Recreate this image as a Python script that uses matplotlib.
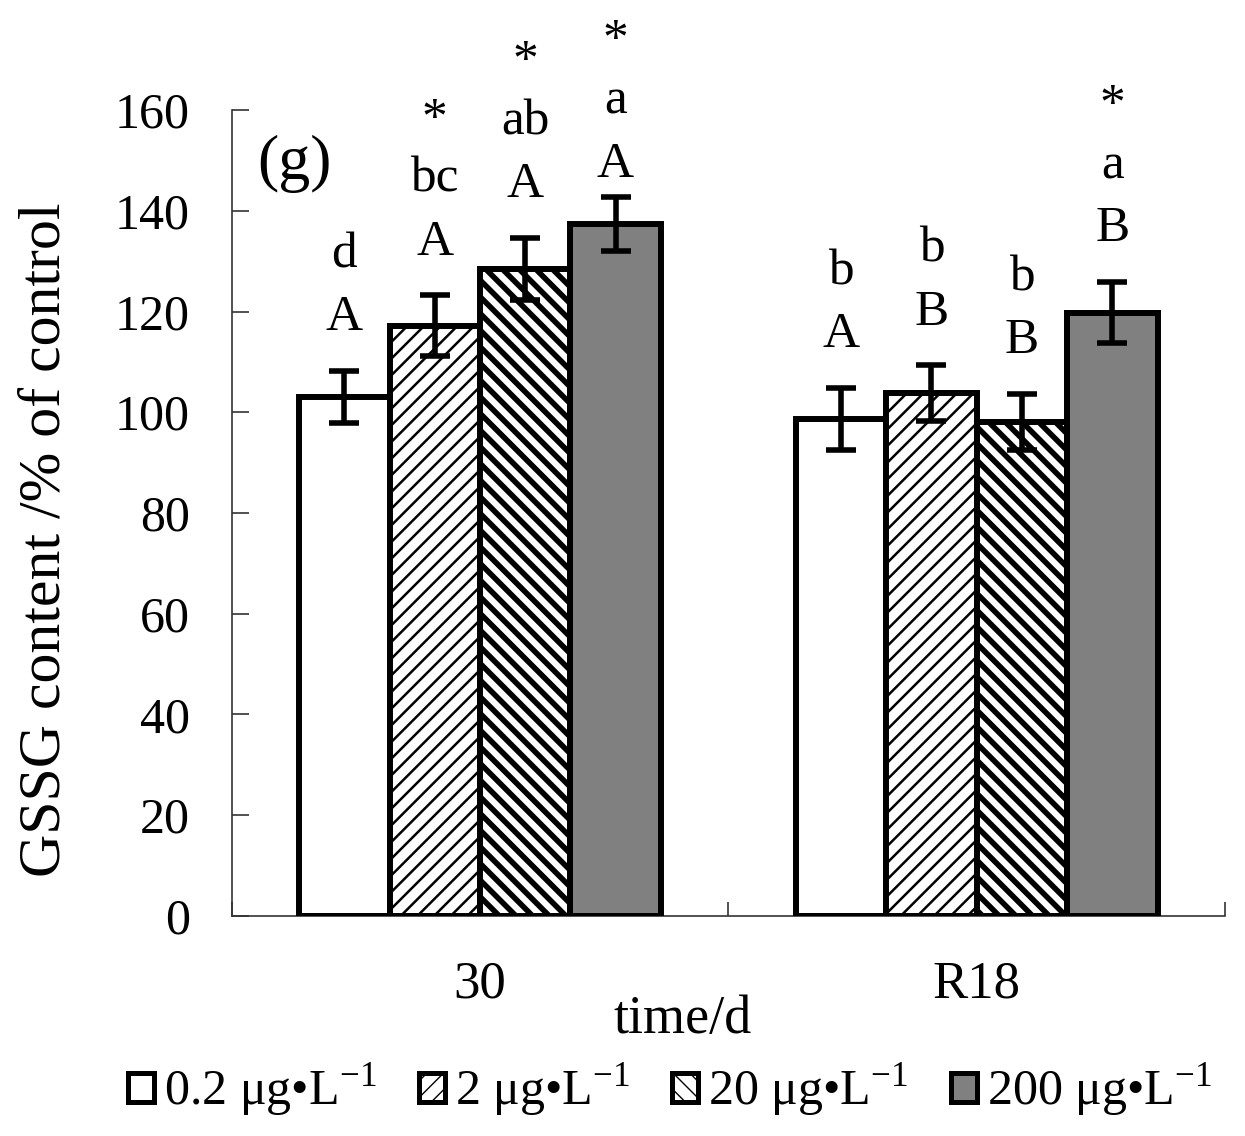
import numpy as np
import matplotlib
matplotlib.use("Agg")
import matplotlib.pyplot as plt
from matplotlib.patches import Patch

plt.rcParams['font.family'] = ['Liberation Serif', 'DejaVu Serif']
plt.rcParams['mathtext.fontset'] = 'custom'
plt.rcParams['mathtext.rm'] = 'Liberation Serif'

# data
times = ['30', 'R18']
doses = ['0.2 μg•L$^{-1}$', '2 μg•L$^{-1}$', '20 μg•L$^{-1}$', '200 μg•L$^{-1}$']
gssg = [[103.0, 98.6],
        [117.2, 103.8],
        [128.5, 98.0],
        [137.4, 119.8]]
err = [[5.2, 6.2],
       [6.0, 5.5],
       [6.2, 5.6],
       [5.3, 6.1]]
lower_letters = [['d', 'b'], ['bc', 'b'], ['ab', 'b'], ['a', 'a']]
upper_letters = [['A', 'A'], ['A', 'B'], ['A', 'B'], ['A', 'B']]
stars = [[False, False], [True, False], [True, False], [True, True]]

# layout / style
faces = ['white', 'white', 'white', '#808080']
hatches = [None, '//', '\\\\', None]
hatch_lw = [1.0, 1.8, 4.0, 1.0]
label_shift = [[0, 0], [0, 0], [0, 0], [-4, 0]]   # hand nudges of the letter stacks

fig = plt.figure(figsize=(12.45, 11.36), dpi=100)
ax = fig.add_axes([0.186, 0.194, 0.798, 0.709])

x = np.arange(len(times))
w = 0.182
for i in range(4):
    pos = x + (i - 1.5) * w
    bars = ax.bar(pos, gssg[i], w, color=faces[i], edgecolor='black',
                  linewidth=4.3, hatch=hatches[i], zorder=3)
    for b in bars:
        try:
            b.set_hatch_linewidth(hatch_lw[i])
        except AttributeError:
            pass
    ax.errorbar(pos, gssg[i], yerr=err[i], fmt='none', ecolor='black',
                elinewidth=4, capsize=11, capthick=4, zorder=4)
    for j in range(len(times)):
        top = gssg[i][j] + err[i][j] + label_shift[i][j]
        ax.text(pos[j], top + 10.5, upper_letters[i][j], ha='center', va='center',
                fontsize=37, clip_on=False)
        ax.text(pos[j], top + 23, lower_letters[i][j], ha='center', va='center',
                fontsize=37, clip_on=False)
        if stars[i][j]:
            ax.text(pos[j], top + 35, '*', ha='center', va='center',
                    fontsize=37, clip_on=False)

ax.set_xlim(-0.5, 1.5)
ax.set_ylim(0, 160)
ax.set_yticks(np.arange(0, 161, 20))
ax.set_xticks(x)
ax.set_xticklabels(times)
ax.set_xticks([-0.5, 0.5, 1.5], minor=True)
ax.tick_params(axis='x', which='major', length=0, labelsize=38, pad=32)
ax.tick_params(axis='x', which='minor', direction='in', length=10, width=1.2, color='#333333')
ax.tick_params(axis='y', direction='in', length=12, width=1.2, color='#333333',
               labelsize=36, pad=30)
for s in ['top', 'right']:
    ax.spines[s].set_visible(False)
for s in ['left', 'bottom']:
    ax.spines[s].set_linewidth(1.2)
    ax.spines[s].set_color('#333333')

fig.text(46 / 1245, 1 - 540 / 1136, 'GSSG content /% of control', rotation=90,
         ha='center', va='center', fontsize=43)
fig.text(683 / 1245, 1 - 1020 / 1136, 'time/d', ha='center', va='center', fontsize=39)
ax.text(0.026, 0.933, '(g)', transform=ax.transAxes, ha='left', va='center', fontsize=46)

handles = []
for i in range(4):
    p = Patch(facecolor=faces[i], edgecolor='black', linewidth=3.6, hatch=hatches[i])
    handles.append(p)
fig.legend(handles, doses, loc='center', bbox_to_anchor=(0.538, 0.041), ncol=4,
           frameon=False, fontsize=36, handlelength=0.52, handleheight=0.52,
           handletextpad=0.2, columnspacing=0.85, borderaxespad=0)

fig.savefig('out.png', dpi=100)
